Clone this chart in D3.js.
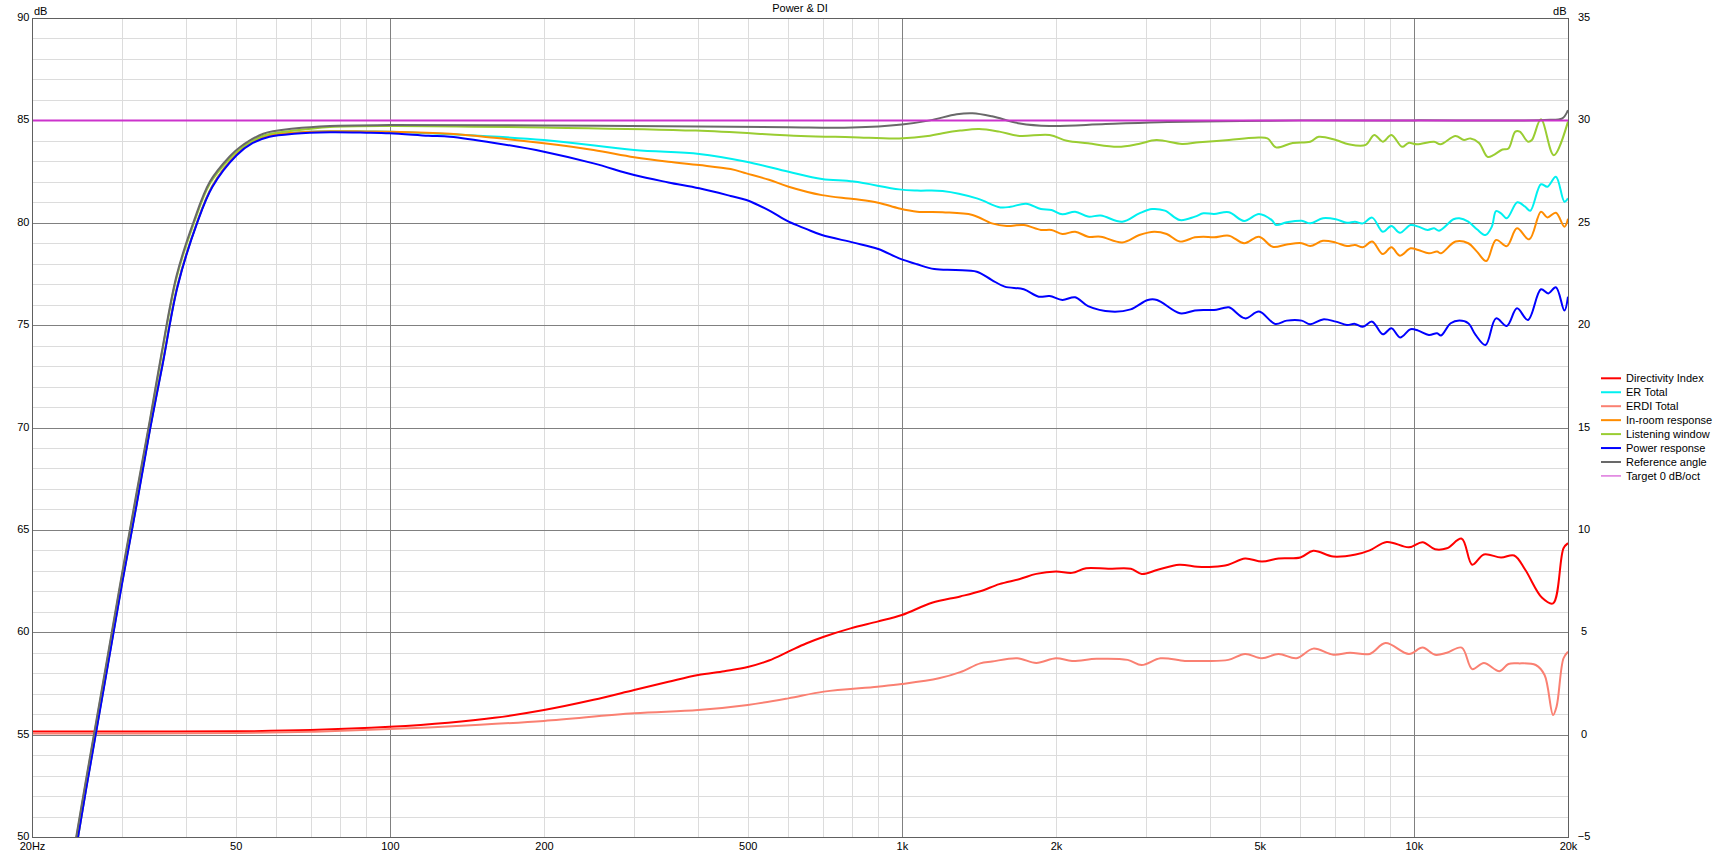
<!DOCTYPE html>
<html><head><meta charset="utf-8">
<script src="https://cdn.jsdelivr.net/npm/d3@7"></script>
<style>
body{margin:0;background:#fff}
svg{display:block}
text{font-family:"Liberation Sans",Arial,sans-serif;font-size:11px;fill:#000}
</style>
</head><body>
<svg id="chart" width="1720" height="855"></svg>
<script>
// ---------------- DATA ----------------
const xTickVals = [20,50,100,200,500,1000,2000,5000,10000,20000];
const xTickText = ["20Hz","50","100","200","500","1k","2k","5k","10k","20k"];
const leftTickVals = [90,85,80,75,70,65,60,55,50];
const rightTickVals = [35,30,25,20,15,10,5,0,-5];

const seriesNames = ["Directivity Index","ER Total","ERDI Total","In-room response","Listening window","Power response","Reference angle","Target 0 dB/oct"];
const seriesColors = ["#ff0000","#00f0f0","#fa8072","#ff8c00","#9acd32","#0000ff","#696969","#cc33cc"];

const refFreq = [20,22,24.4,25.5,28,30,32,34,35.8,38.3,41.3,44.5,48.7,51,56.6,65,76.4,100,200,400,600,800,1000,1135,1280,1374,1500,1700,1943,2500,3300,4600,6000,10000,18000,19500,20000];
const refDb = [37.3,43.4,50.0,52.8,58.6,62.9,66.8,70.4,73.6,77.4,80.0,82.0,83.25,83.7,84.35,84.6,84.73,84.77,84.75,84.7,84.66,84.65,84.8,85.0,85.3,85.35,85.2,84.85,84.73,84.82,84.92,84.97,85.0,85.0,85.02,85.1,85.5];

const lwFreq = [20,22,24.4,25.5,28,30,32,34,35.8,38.3,41.3,44.5,48.7,51,56.6,65,76.4,100,200,396,635,800,988,1135,1201,1300,1415,1550,1698,1943,2100,2310,2642,2900,3141,3525,3807,4354,4889,5177,5379,5800,6274,6518,7039,7458,8052,8369,8696,9039,9484,9761,10141,10952,11272,12059,12529,12900,13406,13927,14300,14894,15300,15780,16100,16710,17000,17710,18760,20000];
const lwDb = [37.2,43.3,49.9,52.7,58.5,62.8,66.7,70.3,73.5,77.3,79.9,81.9,83.15,83.6,84.25,84.5,84.68,84.73,84.65,84.5,84.24,84.18,84.12,84.25,84.37,84.5,84.58,84.45,84.24,84.29,84.0,83.88,83.71,83.85,84.04,83.85,83.93,84.04,84.15,84.12,83.68,83.9,83.96,84.2,84.04,83.83,83.8,84.29,83.96,84.29,83.71,83.9,83.83,83.96,83.83,84.24,84.04,84.12,83.9,83.22,83.3,83.58,83.63,84.45,84.45,83.96,84.04,85.05,83.3,84.94];

const pwFreq = [20,22,24.6,25.5,28,30,32,34,36,38.5,42,45,50.2,54,58.2,65,76.4,90,100,119,131,160,200,250,300,350,402,463,497,550,601,650,698,805,899,988,1071,1157,1273,1401,1499,1588,1730,1851,1943,2058,2180,2310,2567,2798,3022,3150,3492,3735,3880,4071,4230,4354,4680,4983,5360,5645,6038,6274,6645,7039,7400,7674,7950,8290,8696,9039,9400,9854,10200,10700,11100,11300,11800,12270,12770,13200,13800,14470,15190,15900,16700,17710,18300,18940,19680,20000];
const pwDb = [36.8,43.0,50.0,52.3,58.1,62.4,66.2,69.9,73.1,76.9,79.97,81.75,83.3,83.9,84.2,84.35,84.42,84.4,84.37,84.25,84.2,83.9,83.47,82.9,82.33,81.97,81.68,81.31,81.11,80.6,80.05,79.7,79.40,79.03,78.72,78.26,77.97,77.74,77.69,77.61,77.2,76.88,76.75,76.39,76.42,76.23,76.36,75.93,75.66,75.77,76.23,76.23,75.58,75.71,75.74,75.74,75.82,75.87,75.33,75.66,75.06,75.22,75.22,75.04,75.28,75.17,75.01,75.06,74.92,75.17,74.55,74.85,74.40,74.80,74.73,74.52,74.6,74.49,75.09,75.22,75.09,74.52,74.03,75.33,74.96,75.82,75.25,76.75,76.55,76.85,75.71,76.39];

const irFreq = [20,22,24.6,25.5,28,30,32,34,36,38.5,42,45,50.2,54,58.2,65,76.4,90,100,131,160,200,250,300,350,402,463,497,550,601,698,805,899,988,1071,1201,1374,1499,1603,1730,1869,1960,2058,2180,2310,2446,2694,2909,3110,3290,3492,3735,3880,4071,4354,4660,4983,5300,5645,6038,6274,6645,7039,7400,7674,7950,8290,8696,9039,9391,9854,10200,10700,11100,11300,12060,12770,13280,13850,14470,15190,15900,16800,17710,18230,18940,19680,20000];
const irDb = [36.85,43.05,50.0,52.35,58.15,62.45,66.25,69.95,73.15,76.95,80.0,81.8,83.35,83.95,84.25,84.4,84.47,84.46,84.45,84.35,84.15,83.88,83.55,83.20,82.98,82.82,82.62,82.41,82.1,81.76,81.35,81.16,80.98,80.70,80.54,80.51,80.38,79.97,79.84,79.89,79.65,79.65,79.45,79.56,79.32,79.32,79.04,79.40,79.56,79.45,79.08,79.29,79.32,79.29,79.37,79.0,79.32,78.83,78.94,79.0,78.86,79.12,79.03,78.86,78.91,78.8,79.08,78.47,78.8,78.39,78.75,78.67,78.51,78.59,78.51,79.08,79.0,78.59,78.13,79.16,78.86,79.73,79.19,80.54,80.26,80.49,79.81,80.2];

const erFreq = [20,22,24.6,25.5,28,30,32,34,36,38.5,42,45,50.2,54,58.2,65,76.4,90,100,200,300,402,497,601,698,805,988,1071,1201,1401,1557,1630,1748,1869,1960,2058,2180,2310,2446,2694,2909,3081,3264,3492,3735,3880,4071,4354,4660,4983,5277,5379,5645,6038,6274,6645,7039,7400,7674,7950,8290,8696,9039,9391,9854,10200,10640,10952,11200,11950,12270,12770,13280,13800,14200,14470,14800,15190,15930,16500,16880,17710,18230,18940,19680,20000];
const erDb = [36.85,43.05,50.0,52.35,58.15,62.45,66.25,69.95,73.15,76.95,80.0,81.8,83.35,83.95,84.25,84.4,84.47,84.46,84.45,84.04,83.55,83.36,82.98,82.49,82.14,82.01,81.63,81.57,81.55,81.19,80.75,80.78,80.93,80.67,80.62,80.41,80.54,80.30,80.35,80.05,80.46,80.67,80.59,80.13,80.30,80.46,80.43,80.51,80.09,80.43,80.13,79.89,80.02,80.10,79.97,80.22,80.17,80.0,80.05,79.97,80.25,79.56,79.84,79.51,79.89,79.81,79.65,79.73,79.61,80.17,80.22,80.05,79.68,79.40,79.81,80.57,80.46,80.22,81.0,80.78,80.59,81.88,81.76,82.25,81.03,81.2];

// Directivity curves (right axis, dB)
const diFreq = [20,30,50,70,100,130,160,200,250,300,350,400,450,500,550,600,650,704,794,896,1000,1145,1300,1422,1550,1700,1830,2000,2150,2290,2530,2800,2940,3160,3480,3780,4060,4340,4680,5050,5440,6000,6360,6960,7700,8200,8850,9780,10400,11000,11600,12400,13000,13700,14800,15700,16500,17800,18700,19600,20000];
const diDb = [0.15,0.15,0.16,0.22,0.38,0.58,0.82,1.2,1.7,2.18,2.58,2.91,3.1,3.3,3.62,4.05,4.45,4.78,5.19,5.52,5.84,6.44,6.75,7.0,7.35,7.6,7.85,7.97,7.9,8.13,8.1,8.1,7.85,8.05,8.3,8.2,8.2,8.3,8.6,8.45,8.6,8.65,8.98,8.7,8.8,9.0,9.41,9.15,9.4,9.05,9.1,9.57,8.3,8.8,8.65,8.75,8.05,6.68,6.41,9.1,9.35];

const erdiFreq = [20,50,70,100,150,200,300,400,500,600,704,896,1000,1181,1300,1422,1500,1680,1830,2000,2150,2400,2760,2940,3200,3570,3900,4340,4680,5050,5440,5900,6360,6960,7500,8200,8800,9780,10400,11000,11600,12400,13000,13700,14700,15300,16000,17300,18000,18700,19000,19600,20000];
const erdiDb = [0.05,0.08,0.14,0.27,0.48,0.67,1.04,1.2,1.45,1.77,2.1,2.34,2.47,2.75,3.05,3.48,3.57,3.73,3.5,3.73,3.6,3.7,3.65,3.4,3.73,3.6,3.6,3.65,3.94,3.73,3.94,3.73,4.2,3.9,4.0,3.94,4.47,3.94,4.25,3.9,4.0,4.25,3.2,3.5,3.1,3.45,3.48,3.4,2.91,0.96,1.37,3.73,4.05];

const targetFreq = [20,20000];
const targetDb = [85,85];

// ---------------- CHART ----------------
const m = {left:32, right:1568, top:18, bottom:837};
const svg = d3.select("#chart");

const x = d3.scaleLog().domain([20,20000]).range([m.left,m.right]);
const yL = d3.scaleLinear().domain([50,90]).range([m.bottom,m.top]);
const yR = d3.scaleLinear().domain([-5,35]).range([m.bottom,m.top]);

const minorX = [30,40,50,60,70,80,90,200,300,400,500,600,700,800,900,2000,3000,4000,5000,6000,7000,8000,9000];
const majorX = [100,1000,10000];
const minorY = d3.range(51,90).filter(v=>v%5!==0);
const majorY = [55,60,65,70,75,80,85];

function grid(axis, vals, color, transform){
  const g = svg.append("g").attr("transform",transform).call(axis.tickValues(vals).tickFormat(""));
  g.select(".domain").remove();
  g.selectAll("line").attr("stroke",color).attr("stroke-width",1).attr("shape-rendering","crispEdges");
  return g;
}
const plotH = m.bottom-m.top, plotW = m.right-m.left;
grid(d3.axisBottom(x).tickSize(-plotH), minorX, "#dcdcdc", `translate(0,${m.bottom})`);
grid(d3.axisLeft(yL).tickSize(-plotW), minorY, "#dcdcdc", `translate(${m.left},0)`);
grid(d3.axisBottom(x).tickSize(-plotH), majorX, "#808080", `translate(0,${m.bottom})`);
grid(d3.axisLeft(yL).tickSize(-plotW), majorY, "#808080", `translate(${m.left},0)`);

svg.append("rect").attr("x",m.left+0.5).attr("y",m.top+0.5).attr("width",plotW).attr("height",plotH)
  .attr("fill","none").attr("stroke","#606060").attr("stroke-width",1);

// axes labels
const gx = svg.append("g").attr("transform",`translate(0,${m.bottom})`)
  .call(d3.axisBottom(x).tickValues(xTickVals).tickFormat((d,i)=>xTickText[i]).tickSize(0).tickPadding(0));
gx.select(".domain").remove();
gx.selectAll("text").attr("y",13).attr("dy",null).attr("fill","#000");
gx.attr("font-family",null).attr("font-size",null);

const gl = svg.append("g").attr("transform",`translate(${m.left},0)`)
  .call(d3.axisLeft(yL).tickValues(leftTickVals).tickSize(0).tickPadding(2.5));
gl.select(".domain").remove();
gl.selectAll("text").attr("dy",null).attr("y",2.5).attr("fill","#000");
gl.attr("font-family",null).attr("font-size",null);

const gr = svg.append("g").attr("transform",`translate(${m.right},0)`)
  .call(d3.axisRight(yR).tickValues(rightTickVals).tickSize(0));
gr.select(".domain").remove();
gr.selectAll("text").attr("dy",null).attr("y",2.5).attr("x",16).attr("text-anchor","middle").attr("fill","#000");
gr.attr("font-family",null).attr("font-size",null);

svg.append("text").attr("x",34).attr("y",14.5).text("dB");
svg.append("text").attr("x",1566.5).attr("y",14.5).attr("text-anchor","end").text("dB");
svg.append("text").attr("x",(m.left+m.right)/2).attr("y",12).attr("text-anchor","middle").text("Power & DI");

// curves
svg.append("clipPath").attr("id","clip").append("rect")
  .attr("x",m.left+1).attr("y",m.top+1).attr("width",plotW-1).attr("height",plotH-1);
const plot = svg.append("g").attr("clip-path","url(#clip)");

const lineL = d3.line().x(d=>x(d[0])).y(d=>yL(d[1])).curve(d3.curveCatmullRom.alpha(0.5));
const lineR = d3.line().x(d=>x(d[0])).y(d=>yR(d[1])).curve(d3.curveCatmullRom.alpha(0.5));

const series = [
  {f:diFreq, v:diDb, line:lineR, c:0, w:2},
  {f:erFreq, v:erDb, line:lineL, c:1, w:2},
  {f:erdiFreq, v:erdiDb, line:lineR, c:2, w:2},
  {f:irFreq, v:irDb, line:lineL, c:3, w:2},
  {f:lwFreq, v:lwDb, line:lineL, c:4, w:2},
  {f:pwFreq, v:pwDb, line:lineL, c:5, w:2},
  {f:refFreq, v:refDb, line:lineL, c:6, w:2},
  {f:targetFreq, v:targetDb, line:lineL, c:7, w:2}
];
series.forEach(s=>{
  plot.append("path").attr("d", s.line(d3.zip(s.f, s.v)))
    .attr("fill","none").attr("stroke",seriesColors[s.c]).attr("stroke-width",s.w)
    .attr("stroke-linejoin","round");
});

// legend
const leg = svg.append("g");
seriesNames.forEach((n,i)=>{
  const yy = 378.3 + i*13.95;
  leg.append("line").attr("x1",1601).attr("x2",1621).attr("y1",yy).attr("y2",yy)
    .attr("stroke",seriesColors[i]).attr("stroke-width", i===7?1:2);
  leg.append("text").attr("x",1626).attr("y",yy+4).text(n);
});
</script>
</body></html>
